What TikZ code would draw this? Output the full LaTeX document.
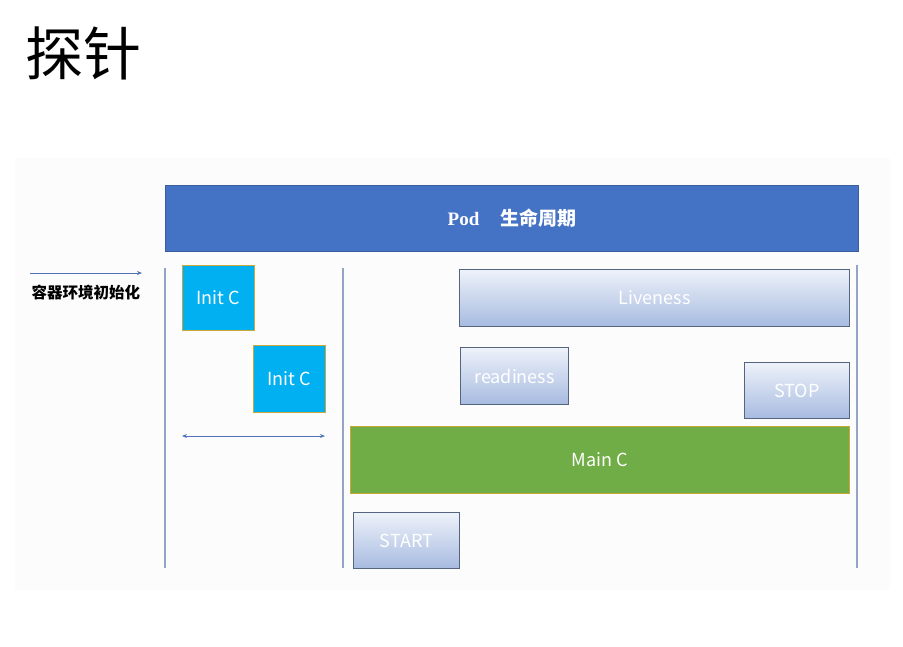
\documentclass[tikz,border=0pt]{standalone}
\usepackage{fontspec}
\newfontfamily\cjk{Noto Sans CJK SC}
\newfontfamily\podfont{Liberation Serif}
\usetikzlibrary{arrows.meta}

\definecolor{podblue}{HTML}{4472C4}
\definecolor{podedge}{HTML}{3A5F9F}
\definecolor{initcyan}{HTML}{00B0F0}
\definecolor{goldedge}{HTML}{C8A838}
\definecolor{maingreen}{HTML}{70AD47}
\definecolor{probetop}{HTML}{EEF2FA}
\definecolor{probebot}{HTML}{A7BBE0}
\definecolor{probeedge}{HTML}{56657F}
\definecolor{phaseline}{HTML}{93A4C6}
\definecolor{arrowblue}{HTML}{4F73B5}

\tikzset{
  box/.style={anchor=north west, inner sep=0pt, text=white,
    font=\cjk\fontsize{18}{20}\selectfont},
  initbox/.style={box, draw=goldedge, line width=0.8pt, fill=initcyan,
    minimum width=72pt, minimum height=65pt},
  probebox/.style={box, draw=probeedge, line width=1pt,
    top color=probetop, bottom color=probebot},
  phase/.style={draw=phaseline, line width=1.2pt},
  span/.style={draw=arrowblue, line width=0.9pt}
}

\begin{document}
\begin{tikzpicture}[x=1pt,y=-1pt]
  \useasboundingbox (0,0) rectangle (903,646);
  \fill[black!1] (15,158) rectangle (890,590);

  % title
  \node[anchor=west, font=\cjk\fontsize{58}{62}\selectfont] (title) at (22,53) {探针};

  % lifecycle bar
  \node[box, draw=podedge, line width=1pt, fill=podblue,
    minimum width=693pt, minimum height=66pt,
    font=\cjk\bfseries\fontsize{19}{21}\selectfont] (pod) at (165,185)
    {{\podfont\bfseries Pod}\hspace{1.1em}生命周期};

  % phase borders
  \coordinate (l1) at (165,268);  \coordinate (l1e) at (165,568);
  \coordinate (l2) at (343,268);  \coordinate (l2e) at (343,568);
  \coordinate (l3) at (857,265);  \coordinate (l3e) at (857,568);
  \draw[phase] (l1) -- (l1e);
  \draw[phase] (l2) -- (l2e);
  \draw[phase] (l3) -- (l3e);

  % init containers
  \coordinate (envs) at (30,273);
  \coordinate (envt) at (142,273);
  \draw[span, -{Stealth[length=5pt,width=4pt]}] (envs) -- (envt);
  \node[anchor=west, font=\cjk\bfseries\fontsize{15.5}{18}\selectfont] (envlabel) at (28,293) {容器环境初始化};

  \node[initbox] (init1) at (182,265) {Init C};
  \node[initbox, minimum height=67pt] (init2) at (253,345) {Init C};

  \coordinate (inita) at (182,436);
  \coordinate (initb) at (325,436);
  \draw[span, {Stealth[length=5pt,width=4pt]}-{Stealth[length=5pt,width=4pt]}] (inita) -- (initb);

  % main container and probes
  \node[probebox, minimum width=390pt, minimum height=57pt] (live) at (459,269) {Liveness};
  \node[probebox, minimum width=108pt, minimum height=57pt] (ready) at (460,347) {readiness};
  \node[probebox, minimum width=105pt, minimum height=56pt] (stop) at (744,362) {STOP};
  \node[box, draw=goldedge, line width=0.8pt, fill=maingreen,
    minimum width=499pt, minimum height=67pt] (main) at (350,426) {Main C};
  \node[probebox, minimum width=106pt, minimum height=56pt] (start) at (353,512) {START};

\end{tikzpicture}
\end{document}
